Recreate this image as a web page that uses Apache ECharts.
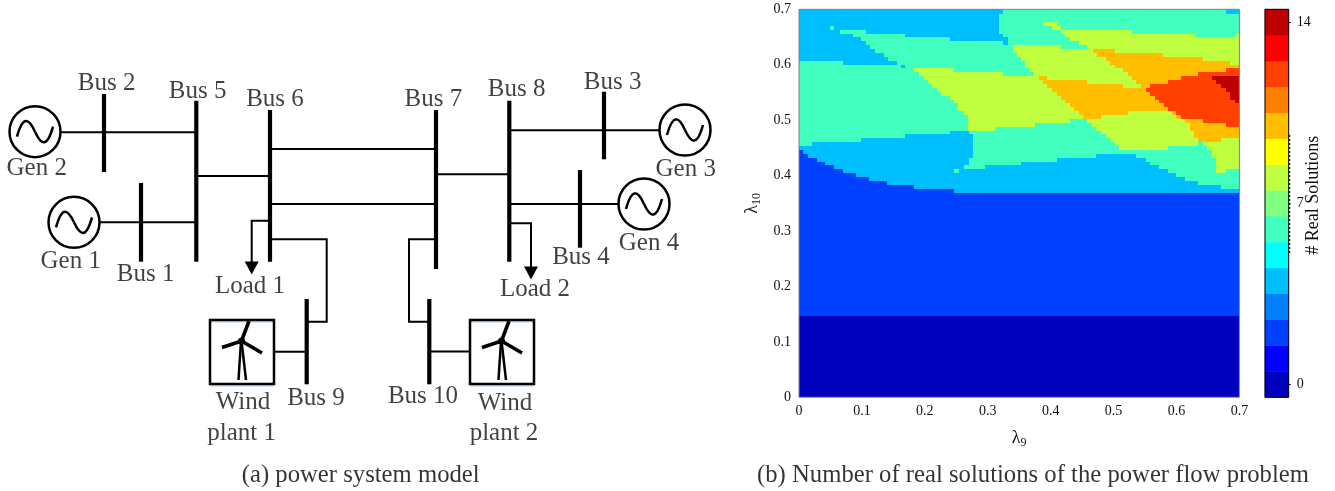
<!DOCTYPE html>
<html><head><meta charset="utf-8">
<style>html,body{margin:0;padding:0;background:#fff}#c{width:1335px;height:491px}</style>
<script src="https://cdn.jsdelivr.net/npm/echarts@6/dist/echarts.min.js"></script>
</head><body><div id="c"></div>
<script>
const levels=[0,1,2,3,4,5,6,7,8,9,10,11,12,13,14];
const levelColors=['#0000BF','#0000FF','#0040FF','#0080FF','#00BFFF','#00FFFF','#40FFBF','#80FF80','#BFFF40','#FFFF00','#FFBF00','#FF8000','#FF4000','#FF0000','#BF0000'];
const colStep=0.007;
// solution count along each grid row from the top: value, end column, value, end column ...
const rowRuns=[
[4,46.4,6,97,4,100],
[4,45.5,6,100],
[4,45.5,6,100],
[4,45.5,6,55.5,8,58.5,6,100],
[4,7,6,8,4,45.5,6,57.5,8,59.5,6,100],
[4,9.2,6,15.3,4,45.5,6,59.5,8,75.5,6,100],
[4,12.2,6,24.1,4,46.4,6,60.5,8,89.9,6,99,8,100],
[4,14.1,6,34.3,4,47.4,6,61.5,8,100],
[4,15.2,6,46.4,4,47.4,6,63.5,8,100],
[4,16.2,6,48.5,8,59.5,6,65.5,8,100],
[4,17.2,6,48.5,8,66.7,10,71.7,8,100],
[4,19.2,6,49.4,8,67.7,10,82.7,8,100],
[4,20.2,6,50.4,8,69.7,10,91.7,8,100],
[6,10.1,4,22.2,6,51.4,8,70.6,10,97.8,8,100],
[6,23.2,4,24.1,6,51.4,8,71.7,10,100],
[6,26.2,8,35.3,6,52.3,8,73.6,10,96.9,12,100],
[6,27.2,8,46.4,6,53.3,8,74.8,10,90.7,12,100],
[6,28.3,8,54.5,10,56.4,8,75.7,10,86.7,12,93.7,14,100],
[6,29.3,8,55.5,10,65.5,8,76.6,10,83.7,12,94.8,14,100],
[6,30.3,8,56.4,10,73.6,8,77.6,10,79.7,12,95.8,14,100],
[6,31.3,8,57.5,10,78.7,12,96.9,14,100],
[6,32.3,8,58.5,10,79.7,12,97.8,14,100],
[6,34.3,8,59.5,10,80.8,12,97.8,14,100],
[6,35.3,8,60.5,10,81.8,12,99,14,100],
[6,36.2,8,61.5,10,82.8,12,100],
[6,36.2,8,62.5,10,83.8,12,100],
[6,37.4,8,63.5,10,74.6,8,84.8,10,85.7,12,100],
[6,38.4,8,64.5,10,68.5,8,85.7,10,86.7,12,100],
[6,38.4,8,61.5,6,65.5,8,87.7,10,91.7,12,100],
[6,38.4,8,53.6,6,66.6,8,88.7,10,96.9,12,100],
[6,38.4,8,44.4,6,67.5,8,88.7,10,100],
[6,34.3,4,38.5,6,68.5,8,89.7,10,100],
[6,24.1,4,39.4,6,69.6,8,89.7,10,100],
[6,14.1,4,39.4,6,70.6,8,90.7,10,95.8,8,100],
[6,3,4,39.4,6,71.7,8,90.7,6,91.7,8,100],
[4,39.4,6,72.7,8,83.7,6,92.7,8,100],
[2,1,4,39.4,6,93.8,8,100],
[2,2,4,39.4,6,67.5,4,76.6,6,93.8,8,100],
[2,4,4,38.5,6,58.5,4,78.7,6,94.8,8,100],
[2,6,4,38.5,6,50.4,4,79.7,6,94.8,8,100],
[2,8,4,37.4,6,42.3,4,81.7,6,94.8,8,100],
[2,10,4,35.3,6,36.4,4,83.7,6,94.8,8,96.9,6,100],
[2,13,4,85.7,6,100],
[2,16,4,87.7,6,100],
[2,20,4,90.7,6,100],
[2,26,4,95.8,6,100],
[2,35.3,4,100]
];
// uniform bands under the rows above: from lambda10, to lambda10, value
const lowerBands=[[0,0.147,0],[0.147,0.36925,2]];

// schematic of panel (a), on a page-sized hidden axis pair
const busBars=[[[104,94],[104,172]],[[196.3,100.7],[196.3,261.7]],[[270,110],[270,261.7]],[[141,183],[141,261.7]],[[436,110],[436,269]],[[509.3,100.7],[509.3,261.7]],[[604,91.7],[604,159.3]],[[580,170],[580,247.7]],[[306.7,299],[306.7,384.3]],[[429.3,299],[429.3,384.3]]];
const wires=[
[[61,132.3],[196,132.3]],[[100,222.3],[196,222.3]],[[196,176],[270,176]],[[270,149],[436,149]],[[270,204],[436,204]],
[[270,220.7],[251.7,220.7],[251.7,263]],[[270,239.3],[326.7,239.3],[326.7,321.7],[306.7,321.7]],
[[274,351.7],[306.7,351.7]],[[429,351.5],[470,351.5]],[[429,321.7],[409,321.7],[409,239.3],[436,239.3]],
[[509,130.3],[659,130.3]],[[436,174.3],[509,174.3]],[[509,204],[618,204]],[[509,223.3],[531,223.3],[531,268]]];
const arrows=[[251.7,268],[531,273]];
const generators=[[35,131.7],[74,222.3],[685,130],[644,204]];
const windPlants=[[242,352],[502,352]];
const textLabels=[
['Bus 2',106.7,81.7],['Bus 5',197.7,90],['Bus 6',275,98],['Gen 2',36.7,166.7],['Gen 1',70.7,260],['Bus 1',145.7,272.7],['Load 1',250,285],
['Bus 7',433.3,98],['Bus 8',516.7,88],['Bus 3',612.7,81],['Gen 3',685.7,168],['Gen 4',649,241.7],['Bus 4',581,256],['Load 2',535,288],
['Wind',243,400.7],['plant 1',241.7,431.7],['Bus 9',316,396.7],['Bus 10',423,395],['Wind',505,401.7],['plant 2',504,432]];
const captions=[['(a) power system model',360.7,474],['(b) Number of real solutions of the power flow problem',1033,474]];
const plotFrame=[[799,9.3],[1239.4,9.3],[1239.4,397.3],[799,397.3],[799,9.3]];
const barFrame=[[1265,9.3],[1288.7,9.3],[1288.7,397.3],[1265,397.3],[1265,9.3]];
const barTickNoise=[[1289.5,135],[1289.5,255]];

const SERIF='"Liberation Serif","Times New Roman",serif';
const cells=[];
rowRuns.forEach((runs,i)=>{
  const top=i===0?0:i+0.25, bottom=i+1.25;
  let start=0;
  for(let k=0;k<runs.length;k+=2){
    cells.push([start*colStep,0.7-bottom*colStep,runs[k+1]*colStep,0.7-top*colStep,runs[k]]);
    start=runs[k+1];
  }
});
lowerBands.forEach(b=>cells.push([0,b[0],0.7,b[1],b[2]]));

const chart=echarts.init(document.getElementById('c'),null,{renderer:'canvas'});
const shownLevel=(i,v)=>v==='0'||v==='7'||v==='14';
const nameRich={a:{fontFamily:SERIF,fontSize:18,color:'#111'},b:{fontFamily:SERIF,fontSize:12,color:'#111',verticalAlign:'bottom',padding:[10,0,0,0]}};
chart.setOption({
  animation:false,
  backgroundColor:'#fff',
  grid:[
    {left:799,top:9.3,width:440.4,height:388},
    {left:1265,top:9.3,width:23.7,height:388},
    {left:0,top:0,width:1335,height:491}
  ],
  xAxis:[
    {gridIndex:0,type:'value',min:0,max:0.7,interval:0.1,splitLine:{show:false},axisLine:{show:false},axisTick:{show:false},
     axisLabel:{fontFamily:SERIF,fontSize:14,color:'#111',margin:7,formatter:v=>v===0?'0':v.toFixed(1),showMinLabel:true,showMaxLabel:true},
     name:'{a|λ}{b|9}',nameLocation:'middle',nameGap:30,nameTextStyle:{rich:nameRich}},
    {gridIndex:1,type:'category',data:[''],show:false},
    {gridIndex:2,type:'value',min:0,max:1335,show:false}
  ],
  yAxis:[
    {gridIndex:0,type:'value',min:0,max:0.7,interval:0.1,splitLine:{show:false},axisLine:{show:false},axisTick:{show:false},
     axisLabel:{fontFamily:SERIF,fontSize:14,color:'#111',margin:8,formatter:v=>v===0?'0':v.toFixed(1),showMinLabel:true,showMaxLabel:true},
     name:'{a|λ}{b|10}',nameLocation:'middle',nameGap:36,nameTextStyle:{rich:nameRich}},
    {gridIndex:1,type:'category',position:'right',data:levels.map(String),axisLine:{show:false},
     axisTick:{show:true,interval:shownLevel,alignWithLabel:true,length:2,lineStyle:{color:'#000'}},
     axisLabel:{interval:shownLevel,fontFamily:SERIF,fontSize:14,color:'#111',margin:8},
     name:'# Real Solutions',nameLocation:'middle',nameRotate:90,nameGap:16,nameMoveOverlap:false,
     nameTextStyle:{fontFamily:SERIF,fontSize:18,color:'#111',padding:[0,0,0,16]}},
    {gridIndex:2,type:'value',min:0,max:491,inverse:true,show:false}
  ],
  visualMap:[{type:'piecewise',show:false,seriesIndex:1,dimension:2,pieces:levels.map((v,i)=>({value:v,color:levelColors[i]}))}],
  series:[
    {type:'custom',xAxisIndex:0,yAxisIndex:0,data:cells,clip:true,silent:true,
     encode:{x:[0,2],y:[1,3]},
     renderItem:(p,api)=>{
       const a=api.coord([api.value(0),api.value(3)]),b=api.coord([api.value(2),api.value(1)]);
       const x=Math.round(a[0]),y=Math.round(a[1]);
       return {type:'rect',shape:{x:x,y:y,width:Math.round(b[0])-x,height:Math.round(b[1])-y},style:{fill:levelColors[api.value(4)]}};
     }},
    {type:'heatmap',xAxisIndex:1,yAxisIndex:1,data:levels.map((v,i)=>[0,i,v]),progressive:0,silent:true},
    {type:'lines',coordinateSystem:'cartesian2d',xAxisIndex:2,yAxisIndex:2,polyline:true,silent:true,z:3,
     lineStyle:{color:'#000',width:2,opacity:1},data:wires.map(c=>({coords:c}))},
    {type:'lines',coordinateSystem:'cartesian2d',xAxisIndex:2,yAxisIndex:2,polyline:true,silent:true,z:4,
     lineStyle:{color:'#000',width:4.2,opacity:1},data:busBars.map(c=>({coords:c}))},
    {type:'scatter',xAxisIndex:2,yAxisIndex:2,symbol:'triangle',symbolRotate:180,symbolSize:[14,13],silent:true,z:4,
     itemStyle:{color:'#000',opacity:1},data:arrows},
    {type:'custom',xAxisIndex:2,yAxisIndex:2,data:generators,silent:true,z:5,
     renderItem:(p,api)=>{
       const c=api.coord([api.value(0),api.value(1)]);
       const st={fill:'none',stroke:'#000',lineWidth:2.5};
       return {type:'group',x:c[0],y:c[1],children:[
         {type:'circle',shape:{cx:0,cy:0,r:25.5},style:{fill:'#fff',stroke:'#000',lineWidth:2.5}},
         {type:'bezierCurve',shape:{x1:-18,y1:5,cpx1:-12,cpy1:-17,cpx2:-6,cpy2:-13,x2:0,y2:0},style:st},
         {type:'bezierCurve',shape:{x1:0,y1:0,cpx1:6,cpy1:13,cpx2:12,cpy2:17,x2:18,y2:-5},style:st}
       ]};
     }},
    {type:'custom',xAxisIndex:2,yAxisIndex:2,data:windPlants,silent:true,z:5,
     renderItem:(p,api)=>{
       const c=api.coord([api.value(0),api.value(1)]);
       const ln=(x1,y1,x2,y2,w,col)=>({type:'line',shape:{x1,y1,x2,y2},style:{stroke:col||'#000',lineWidth:w}});
       return {type:'group',x:c[0],y:c[1],children:[
         ln(-32,-30,32,-30,2,'#d5e3ee'),ln(-32,34,32,34,2,'#d5e3ee'),
         {type:'rect',shape:{x:-32,y:-32,width:64,height:64},style:{fill:'none',stroke:'#000',lineWidth:2.5}},
         ln(-0.5,-11,7,-31,3.6),ln(-0.5,-11,-20,-4.5,3.6),ln(-0.5,-11,20,1,3.6),
         {type:'circle',shape:{cx:-0.5,cy:-11,r:3.5},style:{fill:'#000'}},
         ln(-1,-11,-3.5,28,2.5),ln(-0.5,-11,4,28,2.5)
       ]};
     }},
    {type:'scatter',xAxisIndex:2,yAxisIndex:2,symbolSize:1,silent:true,z:6,itemStyle:{color:'transparent'},
     label:{show:true,position:'inside',offset:[0,1.5],formatter:'{b}',fontFamily:SERIF,fontSize:25,color:'#111',textBorderWidth:0},
     data:textLabels.map(t=>({name:t[0],value:[t[1],t[2]]}))},
    {type:'scatter',xAxisIndex:2,yAxisIndex:2,symbolSize:1,silent:true,z:6,itemStyle:{color:'transparent'},
     label:{show:true,position:'inside',offset:[0,2],formatter:'{b}',fontFamily:SERIF,fontSize:24.7,color:'#000',textBorderWidth:0},
     data:captions.map(t=>({name:t[0],value:[t[1],t[2]]}))},
    {type:'lines',coordinateSystem:'cartesian2d',xAxisIndex:2,yAxisIndex:2,polyline:true,silent:true,z:7,
     lineStyle:{color:'#808080',width:1,opacity:1},data:[{coords:plotFrame}]},
    {type:'lines',coordinateSystem:'cartesian2d',xAxisIndex:2,yAxisIndex:2,polyline:true,silent:true,z:7,
     lineStyle:{color:'#000',width:1,opacity:1},data:[{coords:barFrame}]},
    {type:'lines',coordinateSystem:'cartesian2d',xAxisIndex:2,yAxisIndex:2,polyline:true,silent:true,z:7,
     lineStyle:{color:'#222',width:1.5,type:[2,2],opacity:1},data:[{coords:barTickNoise}]}
  ]
});
</script></body></html>
